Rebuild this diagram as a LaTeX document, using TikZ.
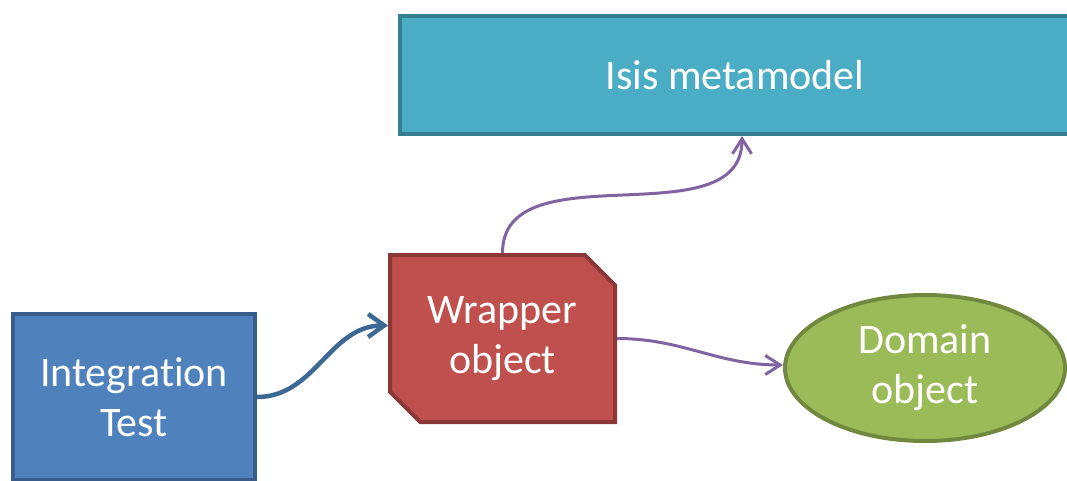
\documentclass[tikz,border=0pt]{standalone}
\usepackage{fontspec}
\setmainfont{Carlito}[Ligatures=NoCommon]
\usepackage{color}
\usetikzlibrary{positioning}
\usetikzlibrary{arrows.meta,shapes.geometric,shapes.misc}

\definecolor{testfill}{HTML}{4F81BD}
\definecolor{testline}{HTML}{385D8A}
\definecolor{wrapfill}{HTML}{C0504D}
\definecolor{wrapline}{HTML}{8C3836}
\definecolor{isisfill}{HTML}{4BACC6}
\definecolor{isisline}{HTML}{357D91}
\definecolor{domfill}{HTML}{9BBB59}
\definecolor{domline}{HTML}{71893F}
\definecolor{linkblue}{HTML}{3C6896}
\definecolor{linkpurple}{HTML}{8064A2}

\begin{document}
\begin{tikzpicture}[x=1pt,y=1pt,
  box/.style={draw,line width=4pt,text=white,align=center,inner sep=0pt,
    font=\fontsize{42}{50}\selectfont},
  testlink/.style={draw=linkblue,line width=4.5pt,-{Straight Barb[length=16pt,width=23pt]}},
  metalink/.style={draw=linkpurple,line width=3pt,-{Straight Barb[length=15pt,width=19pt]}}]
  \path[use as bounding box,clip] (0,0) rectangle (1067,480);

  \node[box,fill=testfill,draw=testline,minimum width=242pt,minimum height=166pt]
    (Test) at (134,83) {Integration\\Test};
  \node[box,fill=wrapfill,draw=wrapline,chamfered rectangle,
    chamfered rectangle corners={north east,south west},chamfered rectangle xsep=27pt,
    minimum width=225pt,minimum height=167pt]
    (Wrapper) at (502.5,141.5) {Wrapper\\object};
  \node[box,fill=isisfill,draw=isisline,minimum width=670pt,minimum height=118pt]
    (Isis) at (735,405) {Isis metamodel};
  \node[box,fill=domfill,draw=domline,ellipse,minimum width=280pt,minimum height=146pt]
    (Domain) at (925,112) {Domain\\object};

  \path
    (Test.east)    edge [testlink,out=0,in=180]  ([yshift=13pt]Wrapper.west)
    (Wrapper.north) edge [metalink,out=90,in=-90] ([xshift=7pt]Isis.south)
    (Wrapper.east) edge [metalink,out=0,in=180]  ([yshift=3pt]Domain.west);
\end{tikzpicture}
\end{document}
